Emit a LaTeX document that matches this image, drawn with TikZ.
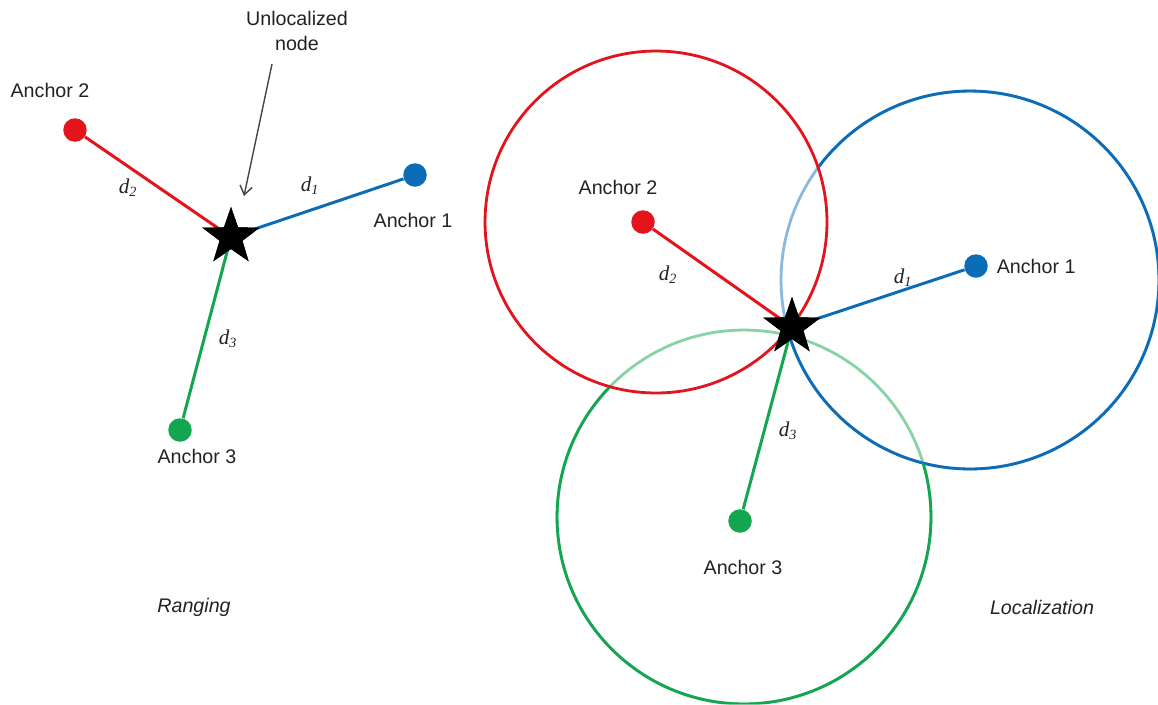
\documentclass[tikz,border=0pt]{standalone}
\usepackage{fontspec}
\setmainfont{Liberation Sans}
\newfontfamily\distfont{Liberation Serif}
\usetikzlibrary{arrows.meta,positioning,shapes.geometric}
\definecolor{rgRed}{HTML}{E3141C}
\definecolor{rgBlue}{HTML}{0B6DB8}
\definecolor{rgGreen}{HTML}{13A54F}
\definecolor{rgBlueLight}{HTML}{8CB8DC}
\definecolor{rgGreenLight}{HTML}{86D3A6}
\definecolor{rgArrow}{HTML}{454545}
\definecolor{rgText}{HTML}{222222}
\newcommand{\dlab}[1]{{\distfont\fontsize{12}{14}\selectfont\itshape d\textsubscript{#1}}}

\begin{document}
\begin{tikzpicture}[
  x=0.02cm,y=-0.02cm,
  font=\fontsize{11.2}{14}\selectfont,
  text=rgText,
  anchordot/.style={
    circle,
    inner sep=0pt,
    minimum size=0.47cm
  },
  target/.style={
    star,
    star points=5,
    star point ratio=2.5,
    fill=black,
    inner sep=0pt,
    minimum size=1.2cm
  },
  rangeline/.style={line width=1.7pt},
  ring/.style={line width=1.6pt}
]
  \useasboundingbox (0,0) rectangle (1158,704);

  % ranging
  \node[anchordot,fill=rgRed] (lA2) at (75,130) {};
  \node[anchordot,fill=rgBlue] (lA1) at (415,175) {};
  \node[anchordot,fill=rgGreen] (lA3) at (180,430) {};
  \node[target] (lx) at (231,237) {};

  \draw[rangeline,rgRed] (lA2)--(lx.center);
  \draw[rangeline,rgBlue] (lA1)--(lx.center);
  \draw[rangeline,rgGreen] (lA3)--(lx.center);
  \node[target] at (lx) {};

  \node at (50,90) {Anchor 2};
  \node at (413,220) {Anchor 1};
  \node at (197,456) {Anchor 3};
  \node at (128,188) {\dlab{2}};
  \node at (310,186) {\dlab{1}};
  \node at (228,339) {\dlab{3}};

  \node[align=center] (unloc) at (297,31) {Unlocalized\\node};
  \draw[-{Straight Barb[length=5pt,width=7pt]},line width=0.8pt,rgArrow]
    (272,64)--(244,196);
  \node at (194,607) {\itshape Ranging};

  % localization
  \coordinate (cR) at (656,222);
  \coordinate (cB) at (970,280);
  \coordinate (cG) at (744,517);

  \draw[ring,rgBlueLight] (cB) circle[radius=3.78cm];
  \draw[ring,rgGreenLight] (cG) circle[radius=3.74cm];
  \begin{scope}[even odd rule]
    \clip (0,0) rectangle (1158,704) (cR) circle[radius=3.42cm];
    \draw[ring,rgBlue] (cB) circle[radius=3.78cm];
    \begin{scope}[even odd rule]
      \clip (0,0) rectangle (1158,704) (cB) circle[radius=3.78cm];
      \draw[ring,rgGreen] (cG) circle[radius=3.74cm];
    \end{scope}
  \end{scope}
  \draw[ring,rgRed] (cR) circle[radius=3.42cm];

  \node[anchordot,fill=rgRed] (rA2) at (643,222) {};
  \node[anchordot,fill=rgBlue] (rA1) at (976,266) {};
  \node[anchordot,fill=rgGreen] (rA3) at (740,521) {};
  \node[target] (rx) at (792,327) {};

  \draw[rangeline,rgRed] (rA2)--(rx.center);
  \draw[rangeline,rgBlue] (rA1)--(rx.center);
  \draw[rangeline,rgGreen] (rA3)--(rx.center);
  \node[target] at (rx) {};

  \node at (618,187) {Anchor 2};
  \node[right=0.05cm of rA1] {Anchor 1};
  \node at (743,567) {Anchor 3};
  \node at (668,275) {\dlab{2}};
  \node at (903,278) {\dlab{1}};
  \node at (788,431) {\dlab{3}};
  \node at (1042,607) {\itshape Localization};
\end{tikzpicture}
\end{document}
